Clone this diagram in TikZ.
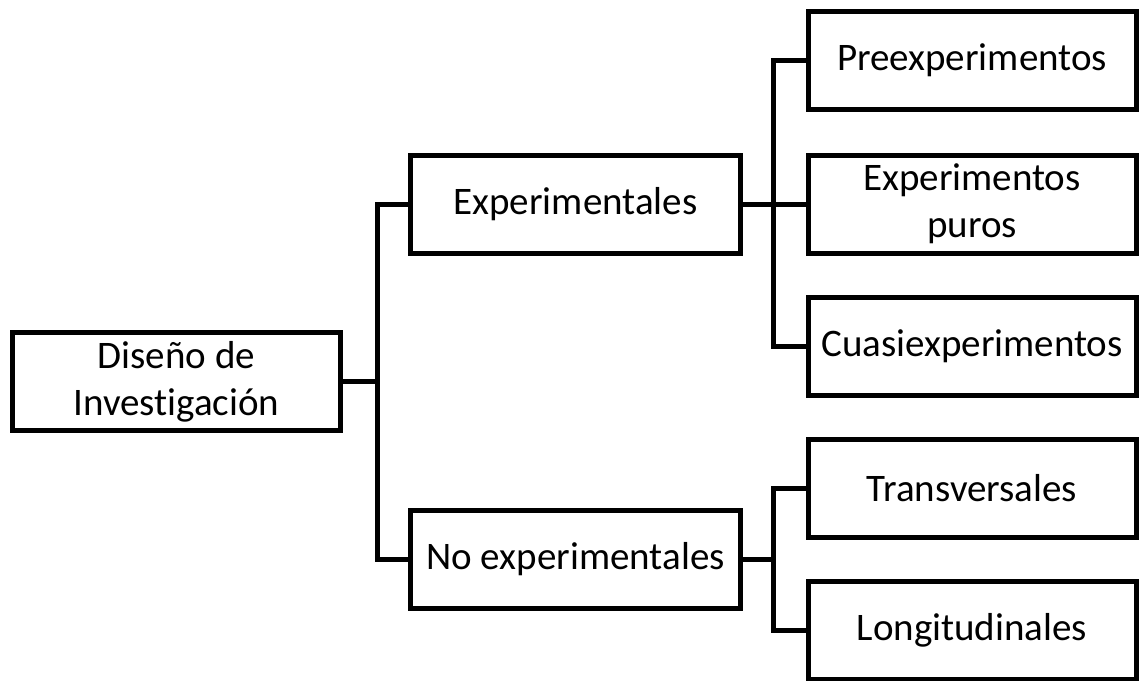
\documentclass[tikz,border=0pt]{standalone}
\usepackage{fontspec}
\setmainfont[Ligatures=NoCommon]{Carlito}
\tikzset{
  caja/.style={draw, line width=5pt, minimum width=328pt, minimum height=98pt,
    align=center, inner sep=0pt, font=\fontsize{39}{47}\selectfont},
  rama/.style={line width=5pt}
}
\begin{document}
\begin{tikzpicture}[x=1pt,y=-1pt]
  \useasboundingbox (0,0) rectangle (1139,680);
  \node[caja] (diseno) at (176.5,381.5) {Diseño de\\Investigación};
  \node[caja, minimum width=330pt] (exp) at (575.5,204) {Experimentales};
  \node[caja, minimum width=330pt] (noexp) at (575.5,559) {No experimentales};
  \node[caja] (pre) at (972,60) {Preexperimentos};
  \node[caja] (puros) at (972,204) {Experimentos\\puros};
  \node[caja] (cuasi) at (972,346) {Cuasiexperimentos};
  \node[caja] (trans) at (972,488) {Transversales};
  \node[caja] (longi) at (972,630) {Longitudinales};
  \coordinate (j1) at (377,381.5);
  \coordinate (j2) at (773,204);
  \coordinate (j3) at (773,559);
  \draw[rama] (diseno.east) -- (j1);
  \draw[rama] (exp.west) -| (j1) |- (noexp.west);
  \draw[rama] (exp.east) -- (puros.west);
  \draw[rama] (pre.west) -| (j2) |- (cuasi.west);
  \draw[rama] (noexp.east) -- (j3);
  \draw[rama] (trans.west) -| (j3) |- (longi.west);
\end{tikzpicture}
\end{document}
